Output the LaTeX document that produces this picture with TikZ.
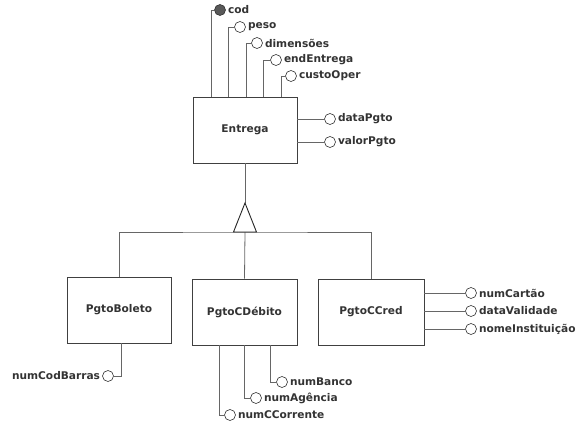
\documentclass[tikz,border=0pt]{standalone}
\usepackage{fontspec}
\setmainfont{DejaVu Sans}
\usetikzlibrary{positioning, shadows}

\tikzset{
    entity/.style={draw=black!75, line width=0.9pt, fill=white, minimum height=66pt, font=\bfseries\fontsize{10.6}{12}\selectfont, text=black!80,
        drop shadow={shadow xshift=1pt, shadow yshift=-1pt, opacity=0.35}},
    attr/.style={circle, draw=black!80, line width=0.6pt, fill=white, minimum size=11pt, inner sep=0pt},
    keyattr/.style={attr, fill=black!65},
    lbl/.style={inner sep=1pt, font=\bfseries\fontsize{10.6}{12}\selectfont, text=black!80},
    link/.style={draw=black!60, line width=0.8pt}
}

\begin{document}
\begin{tikzpicture}[x=1pt, y=-1pt]
    \useasboundingbox (0,0) rectangle (581,438);

    % Superclass
    \node[entity, minimum width=104pt] (ent) at (245,130) {Entrega};

    % Attributes on top of Entrega
    \node[keyattr] (cod) at (220,10) {};
    \node[attr] (peso) at (240,27) {};
    \node[attr] (dim) at (257,43) {};
    \node[attr] (endent) at (276,60) {};
    \node[attr] (custo) at (291,76) {};
    \node[lbl, right=1pt of cod] {cod};
    \node[lbl, right=1pt of peso] {peso};
    \node[lbl, right=1pt of dim] {dimensões};
    \node[lbl, right=1pt of endent] {endEntrega};
    \node[lbl, right=1pt of custo] {custoOper};
    \draw[link] (ent.north -| 211,0) |- (cod);
    \draw[link] (ent.north -| 228,0) |- (peso);
    \draw[link] (ent.north -| 246,0) |- (dim);
    \draw[link] (ent.north -| 263,0) |- (endent);
    \draw[link] (ent.north -| 281,0) |- (custo);

    % Attributes on the right of Entrega
    \node[attr] (datapg) at (330,119) {};
    \node[attr] (valorpg) at (330,142) {};
    \node[lbl, right=1pt of datapg] {dataPgto};
    \node[lbl, right=1pt of valorpg] {valorPgto};
    \draw[link] (ent.east |- datapg) -- (datapg);
    \draw[link] (ent.east |- valorpg) -- (valorpg);

    % Subclasses
    \node[entity, minimum width=104pt] (bol) at (119,310) {PgtoBoleto};
    \node[entity, minimum width=105pt] (deb) at (244.5,312) {PgtoCDébito};
    \node[entity, minimum width=106pt] (cred) at (371,312) {PgtoCCred};

    % Generalization
    \coordinate (apex) at (245,203);
    \coordinate (gen) at (245,232);
    \draw[link] (ent.south) -- (apex);
    \draw[link] (bol.north) |- (gen) -| (cred.north);
    \draw[link] (gen) -- (deb.north);
    \draw[draw=black!85, line width=0.9pt, fill=white, line join=miter] (apex) -- ([xshift=-11.5pt]gen) -- ([xshift=11.5pt]gen) -- cycle;

    % Attributes of PgtoBoleto
    \node[attr] (codbar) at (108,376) {};
    \node[lbl, left=1pt of codbar] {numCodBarras};
    \draw[link] (bol.south -| 121,0) |- (codbar);

    % Attributes of PgtoCDebito
    \node[attr] (banco) at (282,382) {};
    \node[attr] (agencia) at (256,398) {};
    \node[attr] (ccorr) at (230,415) {};
    \node[lbl, right=1pt of banco] {numBanco};
    \node[lbl, right=1pt of agencia] {numAgência};
    \node[lbl, right=1pt of ccorr] {numCCorrente};
    \draw[link] (deb.south -| 270,0) |- (banco);
    \draw[link] (deb.south -| 244,0) |- (agencia);
    \draw[link] (deb.south -| 219,0) |- (ccorr);

    % Attributes of PgtoCCred
    \node[attr] (cartao) at (471,293) {};
    \node[attr] (valid) at (471,311) {};
    \node[attr] (inst) at (471,329) {};
    \node[lbl, right=1pt of cartao] {numCartão};
    \node[lbl, right=1pt of valid] {dataValidade};
    \node[lbl, right=1pt of inst] {nomeInstituição};
    \draw[link] (cred.east |- cartao) -- (cartao);
    \draw[link] (cred.east |- valid) -- (valid);
    \draw[link] (cred.east |- inst) -- (inst);
\end{tikzpicture}
\end{document}
